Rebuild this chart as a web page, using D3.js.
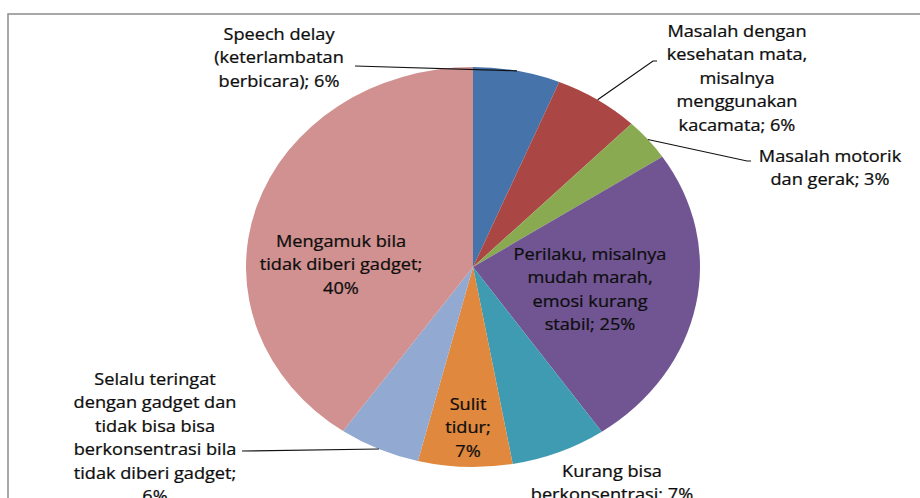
<!DOCTYPE html>
<html>
<head>
<meta charset="utf-8">
<script src="https://cdn.jsdelivr.net/npm/d3@7"></script>
<style>
  body { margin: 0; background: #fff; }
  text { font-family: "Open Sans", sans-serif; font-size: 16px; fill: #0d0d0d; stroke: #0d0d0d; stroke-width: 0.25px; }
</style>
</head>
<body>
<svg id="chart" width="920" height="498"></svg>
<script>
// data
var categories = [
    'Speech delay (keterlambatan berbicara)',
    'Masalah dengan kesehatan mata, misalnya menggunakan kacamata',
    'Masalah motorik dan gerak',
    'Perilaku, misalnya mudah marah, emosi kurang stabil',
    'Kurang bisa berkonsentrasi',
    'Sulit tidur',
    'Selalu teringat dengan gadget dan tidak bisa bisa berkonsentrasi bila tidak diberi gadget',
    'Mengamuk bila tidak diberi gadget'
];
var values = [6.2, 6.1, 3.4, 24.7, 6.8, 6.7, 5.8, 40.3];
var percentLabels = ['6%', '6%', '3%', '25%', '7%', '7%', '6%', '40%'];
var labelLines = [
    ['Speech delay', '(keterlambatan', 'berbicara); 6%'],
    ['Masalah dengan', 'kesehatan mata,', 'misalnya', 'menggunakan', 'kacamata; 6%'],
    ['Masalah motorik', 'dan gerak; 3%'],
    ['Perilaku, misalnya', 'mudah marah,', 'emosi kurang', 'stabil; 25%'],
    ['Kurang bisa', 'berkonsentrasi; 7%'],
    ['Sulit', 'tidur;', '7%'],
    ['Selalu teringat', 'dengan gadget dan', 'tidak bisa bisa', 'berkonsentrasi bila', 'tidak diberi gadget;', '6%'],
    ['Mengamuk bila', 'tidak diberi gadget;', '40%']
];
var colors = ['#4673aa', '#aa4745', '#8aaa52', '#705592', '#3f9bb2', '#e0893e', '#92a9d2', '#d09190'];

// layout (label block centre x, first baseline, leader anchor or null)
var labelLayout = [
    {x: 279, y: 40, anchor: [355, 66]},
    {x: 737, y: 37, anchor: [653, 61], tail: 4},
    {x: 830, y: 162, anchor: [747, 161], tail: 4},
    {x: 590, y: 260, anchor: null},
    {x: 612, y: 477, anchor: null},
    {x: 468, y: 410, anchor: null},
    {x: 155, y: 385, anchor: [242, 451]},
    {x: 341, y: 247, anchor: null}
];

var svg = d3.select('#chart');
var cx = 473, cy = 267, ry = 200, rx = 227;
var sx = rx / ry;
var lineH = 23.5;

// frame
svg.append('rect')
    .attr('x', 8).attr('y', 14)
    .attr('width', 1000).attr('height', 600)
    .attr('fill', 'none')
    .attr('stroke', '#8c8c8c')
    .attr('stroke-width', 1.5);

var pie = d3.pie().sort(null).value(d => d);
var arcs = pie(values);
var arc = d3.arc().innerRadius(0).outerRadius(ry);

var pieG = svg.append('g')
    .attr('transform', 'translate(' + cx + ',' + cy + ') scale(' + sx + ',1)');

pieG.selectAll('path')
    .data(arcs).enter().append('path')
    .attr('d', arc)
    .attr('fill', (d, i) => colors[i]);

// leader lines
var linesG = svg.append('g');
arcs.forEach(function (d, i) {
    var lay = labelLayout[i];
    if (!lay.anchor) return;
    var a = (d.startAngle + d.endAngle) / 2;
    var px = cx + rx * Math.sin(a);
    var py = cy - ry * Math.cos(a);
    var pts = [[px, py], lay.anchor];
    if (lay.tail) pts.push([lay.anchor[0] + lay.tail, lay.anchor[1]]);
    linesG.append('path')
        .attr('d', d3.line()(pts))
        .attr('fill', 'none')
        .attr('stroke', '#111')
        .attr('stroke-width', 1.2);
});

// labels
var labelsG = svg.append('g');
labelLines.forEach(function (lines, i) {
    var lay = labelLayout[i];
    var t = labelsG.append('text')
        .attr('text-anchor', 'middle')
        .attr('transform', 'translate(' + lay.x + ',' + lay.y + ') scale(' + sx + ',1)');
    lines.forEach(function (s, j) {
        t.append('tspan').attr('x', 0).attr('y', j * lineH).text(s);
    });
});
</script>
</body>
</html>
